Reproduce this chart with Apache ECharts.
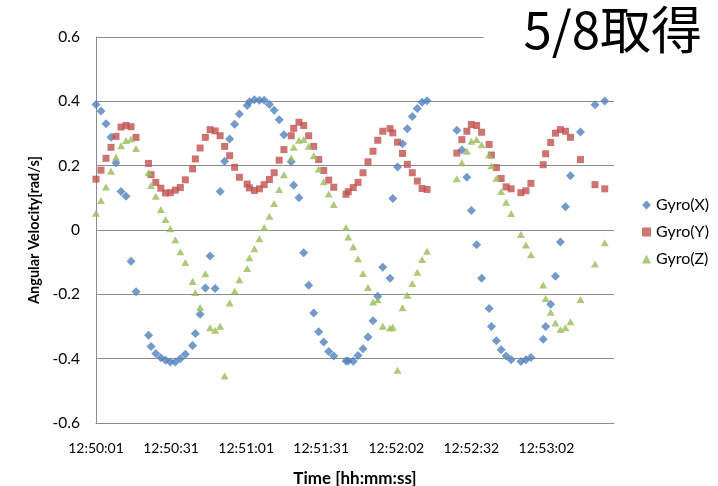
<!DOCTYPE html>
<html>
<head>
<meta charset="utf-8">
<script src="https://cdn.jsdelivr.net/npm/echarts@6/dist/echarts.min.js"></script>
<style>
  html, body { margin: 0; padding: 0; background: #fff; }
  #chart { width: 718px; height: 486px; }
</style>
</head>
<body>
<div id="chart"></div>
<script>
// Sample times in seconds after 12:50:01
const times = [
  0.0, 2.0, 4.0, 6.0, 8.0, 10.0, 12.0, 14.0, 16.0, 21.0,
  22.0, 23.9, 25.9, 27.8, 29.7, 31.7, 33.7, 35.7, 38.6, 39.7,
  41.6, 43.7, 45.6, 47.6, 49.6, 51.4, 53.4, 55.4, 57.3, 60.4,
  61.3, 63.3, 65.3, 67.2, 69.3, 71.2, 73.2, 75.1, 78.0, 79.0,
  81.1, 83.0, 85.0, 87.0, 89.0, 91.0, 93.0, 95.0, 99.9, 100.8,
  102.8, 104.7, 106.7, 108.7, 110.7, 112.6, 114.6, 117.5, 118.6, 120.5,
  122.5, 124.4, 126.4, 128.4, 130.3, 132.3, 144.2, 146.2, 148.2, 150.0,
  152.1, 154.1, 157.1, 158.0, 160.0, 161.9, 163.9, 165.9, 169.8, 171.8,
  173.8, 178.7, 179.7, 181.7, 183.6, 185.6, 187.6, 189.6, 193.6, 199.4,
  203.3
];

// Angular velocity [rad/s]
const gyroX = [
  0.39, 0.37, 0.33, 0.288, 0.209, 0.12, 0.105, -0.097, -0.192, -0.327,
  -0.362, -0.384, -0.397, -0.405, -0.41, -0.41, -0.40, -0.386, -0.359, -0.322,
  -0.262, -0.18, -0.081, -0.182, 0.12, 0.214, 0.283, 0.329, 0.361, 0.387,
  0.399, 0.405, 0.403, 0.403, 0.39, 0.372, 0.343, 0.296, 0.212, 0.139,
  0.10, -0.071, -0.172, -0.258, -0.316, -0.348, -0.378, -0.392, -0.407, -0.407,
  -0.408, -0.39, -0.369, -0.333, -0.282, -0.206, -0.116, -0.15, 0.098, 0.196,
  0.268, 0.315, 0.353, 0.378, 0.397, 0.402, 0.31, 0.249, 0.164, 0.061,
  -0.046, -0.15, -0.244, -0.30, -0.344, -0.372, -0.392, -0.403, -0.409, -0.403,
  -0.396, -0.34, -0.30, -0.231, -0.144, -0.037, 0.072, 0.169, 0.305, 0.389,
  0.401
];

const gyroY = [
  0.158, 0.186, 0.223, 0.257, 0.291, 0.32, 0.325, 0.321, 0.288, 0.207,
  0.172, 0.148, 0.13, 0.115, 0.116, 0.124, 0.132, 0.156, 0.19, 0.221,
  0.255, 0.288, 0.312, 0.308, 0.293, 0.26, 0.231, 0.195, 0.164, 0.143,
  0.131, 0.123, 0.128, 0.141, 0.157, 0.178, 0.217, 0.25, 0.293, 0.316,
  0.335, 0.325, 0.293, 0.26, 0.219, 0.185, 0.155, 0.133, 0.111, 0.119,
  0.132, 0.148, 0.178, 0.212, 0.245, 0.279, 0.307, 0.315, 0.302, 0.273,
  0.238, 0.204, 0.178, 0.152, 0.129, 0.126, 0.239, 0.281, 0.307, 0.328,
  0.325, 0.304, 0.266, 0.233, 0.194, 0.16, 0.134, 0.128, 0.116, 0.122,
  0.145, 0.203, 0.237, 0.272, 0.301, 0.312, 0.307, 0.288, 0.219, 0.141,
  0.128
];

const gyroZ = [
  0.052, 0.092, 0.134, 0.183, 0.226, 0.262, 0.278, 0.283, 0.253, 0.178,
  0.138, 0.105, 0.064, 0.033, 0.004, -0.03, -0.068, -0.101, -0.16, -0.194,
  -0.241, -0.136, -0.304, -0.312, -0.299, -0.454, -0.227, -0.19, -0.155, -0.12,
  -0.086, -0.058, -0.027, 0.008, 0.043, 0.082, 0.126, 0.172, 0.224, 0.257,
  0.279, 0.281, 0.26, 0.231, 0.19, 0.15, 0.112, 0.079, 0.008, -0.022,
  -0.052, -0.089, -0.135, -0.179, -0.224, -0.217, -0.299, -0.305, -0.302, -0.436,
  -0.242, -0.203, -0.166, -0.131, -0.092, -0.066, 0.159, 0.209, 0.245, 0.276,
  0.281, 0.265, 0.234, 0.20, 0.161, 0.12, 0.086, 0.051, -0.014, -0.047,
  -0.077, -0.171, -0.213, -0.256, -0.289, -0.309, -0.304, -0.285, -0.216, -0.106,
  -0.04
];

// Time-axis tick labels, one every 30 s
const timeTicks = ['12:50:01', '12:50:31', '12:51:01', '12:51:31', '12:52:02', '12:52:32', '12:53:02'];

const seriesNames = ['Gyro(X)', 'Gyro(Y)', 'Gyro(Z)'];
const seriesValues = [gyroX, gyroY, gyroZ];
const seriesColors = ['#4F81BD', '#C0504D', '#9BBB59'];
const seriesSymbols = ['diamond', 'rect', 'triangle'];
const seriesSizes = [[9, 9], 7, [8, 7]];

const FONT = 'Lato, "Noto Sans", sans-serif';
const gridColor = '#8C8C8C';

const chart = echarts.init(document.getElementById('chart'), null, { renderer: 'canvas' });

chart.setOption({
  backgroundColor: '#fff',
  animation: false,
  title: {
    text: '5/8取得',
    right: 10,
    top: 0,
    padding: [4, 6, 4, 40],
    backgroundColor: '#fff',
    textStyle: {
      fontFamily: '"Noto Sans CJK JP", sans-serif',
      fontSize: 51,
      fontWeight: 'normal',
      color: '#000'
    },
    z: 10
  },
  legend: {
    orient: 'vertical',
    left: 637,
    top: 192,
    itemGap: 11,
    itemWidth: 9,
    itemHeight: 9,
    textStyle: { fontFamily: FONT, fontSize: 16, color: '#000' },
    data: seriesNames.map((n, i) => ({ name: n, icon: seriesSymbols[i] }))
  },
  grid: { left: 96, right: 104, top: 37, bottom: 63, containLabel: false, outerBoundsMode: 'none' },
  xAxis: {
    type: 'value',
    min: 0,
    max: 207,
    interval: 30,
    name: 'Time [hh:mm:ss]',
    nameLocation: 'middle',
    nameGap: 47,
    nameTextStyle: { fontFamily: FONT, fontSize: 17, fontWeight: 'bold', color: '#000' },
    axisLine: { show: true, onZero: false, lineStyle: { color: gridColor, width: 1 } },
    axisTick: { show: false },
    splitLine: { show: false },
    axisLabel: {
      fontFamily: FONT, fontSize: 14, color: '#000', margin: 18,
      showMaxLabel: false,
      formatter: v => {
        const k = v / 30;
        return Math.abs(k - Math.round(k)) < 1e-6 && timeTicks[Math.round(k)] ? timeTicks[Math.round(k)] : '';
      }
    }
  },
  yAxis: {
    type: 'value',
    min: -0.6,
    max: 0.6,
    interval: 0.2,
    name: 'Angular Velocity[rad/s]',
    nameLocation: 'middle',
    nameGap: 52,
    nameTextStyle: { fontFamily: FONT, fontSize: 14.5, fontWeight: 'bold', color: '#000' },
    axisLine: { show: true, lineStyle: { color: gridColor, width: 1 } },
    axisTick: { show: false },
    splitLine: { show: true, lineStyle: { color: gridColor, width: 1 } },
    axisLabel: {
      fontFamily: FONT, fontSize: 15.5, color: '#000', margin: 16,
      formatter: v => (Math.abs(v) < 1e-9 ? '0' : String(+v.toFixed(1)))
    }
  },
  series: seriesNames.map((name, s) => ({
    name,
    type: 'scatter',
    symbol: seriesSymbols[s],
    symbolSize: seriesSizes[s],
    itemStyle: { color: seriesColors[s] },
    data: times.map((t, i) => [t, seriesValues[s][i]])
  }))
});
</script>
</body>
</html>
